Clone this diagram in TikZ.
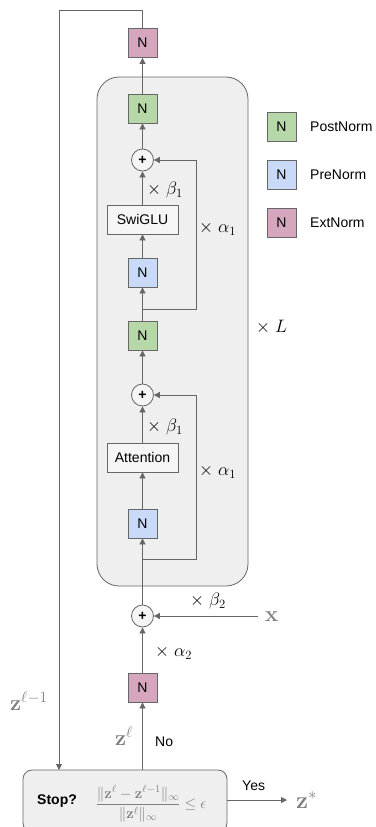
\RequirePackage{fix-cm}
\documentclass[tikz,border=0pt]{standalone}
\usepackage{amsmath}
\usepackage[no-math]{fontspec}
\setmainfont{Liberation Sans}
\usetikzlibrary{arrows.meta}

\definecolor{linegray}{HTML}{666666}
\definecolor{boxgray}{HTML}{EFEFEF}
\definecolor{postgreen}{HTML}{B6D7A8}
\definecolor{preblue}{HTML}{C9DAF8}
\definecolor{extpink}{HTML}{D5A6BD}
\definecolor{zgray}{HTML}{7F7F7F}

\tikzset{
    norm/.style={draw=linegray, line width=0.8pt, minimum size=29pt, inner sep=0pt,
        font=\fontsize{14}{16}\selectfont},
    postnorm/.style={norm, fill=postgreen},
    prenorm/.style={norm, fill=preblue},
    extnorm/.style={norm, fill=extpink},
    layer/.style={draw=linegray, line width=0.8pt, fill=boxgray!60, minimum width=71pt,
        minimum height=29pt, inner sep=0pt, font=\fontsize{14}{16}\selectfont},
    plus/.style={circle, draw=linegray, line width=0.8pt, fill=boxgray!60, minimum size=22pt,
        inner sep=0pt, font=\fontsize{14}{16}\selectfont\bfseries},
    flow/.style={draw=linegray, line width=0.8pt, -{Triangle[length=6pt,width=6pt]}},
    scal/.style={anchor=west, inner sep=0pt, font=\fontsize{18}{21}\selectfont},
    zlab/.style={anchor=base west, inner sep=0pt, text=zgray, font=\fontsize{22}{26}\selectfont},
    legtext/.style={anchor=west, inner sep=0pt, font=\fontsize{14}{16}\selectfont},
}

\begin{document}
\begin{tikzpicture}[x=1pt, y=-1pt]
    \useasboundingbox (0,0) rectangle (375,827);
    % Repeated block
    \draw[draw=linegray, line width=0.8pt, fill=boxgray, rounded corners=22pt] (97,77) rectangle (248,586);
    \node[scal] (times-L) at (256,327) {$\times\ L$};

    % Main column
    \node[extnorm]  (extTop) at (142.5,43)    {N};
    \node[postnorm] (postA)  at (142.5,108.5) {N};
    \node[plus]     (plusA)  at (142.5,160)   {+};
    \node[layer]    (swiglu) at (142.5,219.5) {SwiGLU};
    \node[prenorm]  (preA)   at (142.5,272.5) {N};
    \node[postnorm] (postB)  at (142.5,335.5) {N};
    \node[plus]     (plusB)  at (142.5,395)   {+};
    \node[layer]    (attn)   at (142.5,457.5) {Attention};
    \node[prenorm]  (preB)   at (142.5,523.5) {N};
    \node[plus]     (plusC)  at (142.5,616)   {+};
    \node[extnorm]  (extBot) at (142.5,687.5) {N};
    \node[draw=linegray, line width=0.8pt, fill=boxgray, rounded corners=9pt,
        minimum width=204pt, minimum height=62pt, inner sep=0pt] (stop) at (125,801) {};

    % Legend
    \node[postnorm] (legPost) at (281.5,126.5) {N};
    \node[prenorm]  (legPre)  at (281.5,174.5) {N};
    \node[extnorm]  (legExt)  at (281.5,222.5) {N};
    \node[legtext] at (310,126.5) {PostNorm};
    \node[legtext] at (310,174.5) {PreNorm};
    \node[legtext] at (310,222.5) {ExtNorm};

    % Coordinates for the skips
    \coordinate (skipA) at (142.5,309);
    \coordinate (skipB) at (142.5,559);
    \coordinate (loopTop) at (59,10);
    \coordinate (xin) at (258,616);

    % Connectors
    \draw[flow] (extBot |- stop.north) -- (extBot.south);
    \draw[flow] (extBot.north) -- (plusC.south);
    \draw[flow] (plusC.north) -- (preB.south);
    \draw[flow] (preB.north) -- (attn.south);
    \draw[flow] (attn.north) -- (plusB.south);
    \draw[flow] (plusB.north) -- (postB.south);
    \draw[flow] (postB.north) -- (preA.south);
    \draw[flow] (preA.north) -- (swiglu.south);
    \draw[flow] (swiglu.north) -- (plusA.south);
    \draw[flow] (plusA.north) -- (postA.south);
    \draw[flow] (postA.north) -- (extTop.south);
    \draw[flow] (skipB) -| (196,395) -- (plusB.east);
    \draw[flow] (skipA) -| (196,160) -- (plusA.east);
    \draw[flow] (xin) -- (plusC.east);
    \draw[flow] (extTop.north) |- (loopTop) -- (59,770);
    \draw[flow] (stop.east |- 0,800) -- (287,800);

    % Scalings
    \node[scal] at (147,190) {$\times\ \beta_1$};
    \node[scal] at (199,229) {$\times\ \alpha_1$};
    \node[scal] at (147,427) {$\times\ \beta_1$};
    \node[scal] at (199,472) {$\times\ \alpha_1$};
    \node[scal] at (190,601) {$\times\ \beta_2$};
    \node[scal] at (155,653) {$\times\ \alpha_2$};

    % Iterates
    \node[zlab] at (265,621) {$\mathbf{x}$};
    \node[zlab] at (10,710) {$\mathbf{z}^{\ell-1}$};
    \node[zlab] at (115,745) {$\mathbf{z}^{\ell}$};
    \node[legtext] at (155,742) {No};
    \node[legtext] at (242,786) {Yes};
    \node[zlab, font=\fontsize{24}{28}\selectfont] at (296,808) {$\mathbf{z}^*$};
    \node[legtext, font=\fontsize{14}{16}\selectfont\bfseries] at (37,801) {Stop?};
    \node[anchor=center, inner sep=0pt, text=zgray, font=\fontsize{15}{18}\selectfont] at (151,804)
        {$\displaystyle\frac{\|\mathbf{z}^{\ell}-\mathbf{z}^{\ell-1}\|_\infty}{\|\mathbf{z}^{\ell}\|_\infty}\le\epsilon$};
\end{tikzpicture}
\end{document}
